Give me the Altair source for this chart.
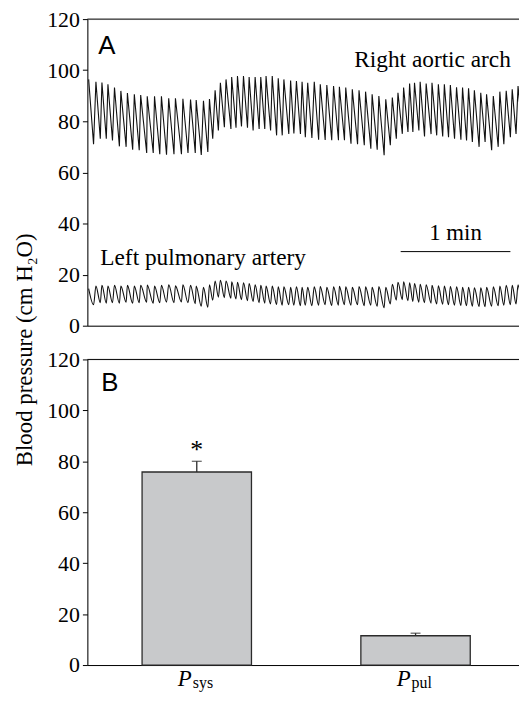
import altair as alt
import pandas as pd

# ---------------- Panel A: pressure traces (time in s, pressure in cm H2O) ----------------
aortic_peak_t = [0.7, 4.7, 8.0, 11.3, 14.9, 18.4, 22.0, 25.8, 29.3, 32.9, 36.9, 40.7, 44.7, 48.4, 52.5, 56.7,
                 59.8, 63.8, 67.1, 70.2, 73.1, 76.2, 79.3, 82.5, 85.8, 88.9, 92.2, 95.3, 98.2, 101.6, 104.9, 108.0, 111.7, 114.9, 118.0,
                 121.1, 124.7, 128.0, 131.6, 135.3, 138.5, 142.0, 145.6, 149.3, 152.9, 156.5, 160.2, 164.0, 167.6, 170.7, 173.8, 177.1,
                 179.8, 182.9, 186.2, 189.4, 192.9, 196.2, 199.5, 202.9, 206.2, 209.5, 212.7, 216.2, 219.4, 223.1, 226.7, 230.2, 233.5, 236.7, 239.8]
aortic_peak = [96.4, 95.5, 95.2, 94.5, 93.2, 91.9, 91.1, 90.6, 90.3, 89.8, 89.8, 89.8, 89.0, 89.0, 88.8, 88.5,
               88.3, 88.0, 88.7, 92.1, 95.1, 96.4, 97.3, 97.7, 97.7, 97.3, 97.3, 97.3, 97.7, 97.7, 96.8, 96.4, 96.0, 95.8, 95.5,
               95.1, 95.5, 94.5, 94.2, 93.8, 93.5, 93.2, 92.5, 92.1, 91.6, 90.6, 89.9, 88.6, 89.3, 91.2, 93.2, 94.8,
               95.1, 95.5, 94.8, 95.1, 94.5, 94.5, 94.2, 93.3, 93.2, 92.9, 92.1, 91.2, 90.6, 89.9, 91.6, 91.9, 92.5, 93.8, 94.8]
aortic_trough_t = [3.4, 7.1, 10.4, 13.8, 17.6, 21.3, 24.9, 28.5, 32.6, 36.2, 39.8, 43.5, 47.6, 51.7, 55.3, 59.3,
                   62.6, 66.2, 68.9, 72.0, 75.3, 78.9, 81.7, 84.7, 88.0, 91.1, 94.4, 97.5, 100.7, 104.0, 107.1, 110.7, 113.5, 117.1,
                   119.8, 123.4, 127.1, 130.7, 134.3, 138.0, 141.3, 144.9, 148.5, 152.2, 155.8, 159.3, 163.1, 166.5, 169.8, 173.1, 176.2,
                   178.9, 182.2, 185.3, 188.9, 192.0, 195.3, 198.5, 201.8, 205.3, 208.4, 211.6, 215.3, 218.6, 222.2, 225.8, 228.9, 232.5, 235.6, 238.9]
aortic_trough = [71.0, 73.2, 73.2, 72.5, 70.2, 70.0, 68.9, 68.7, 67.6, 67.6, 67.1, 66.9, 67.1, 67.1, 67.6, 67.6,
                 66.8, 68.0, 73.2, 76.4, 77.7, 77.0, 77.5, 78.0, 77.5, 76.4, 77.0, 77.0, 76.4, 74.5, 74.5, 75.0, 75.2, 75.0,
                 73.8, 73.5, 72.8, 72.7, 72.6, 72.6, 72.6, 71.2, 71.0, 70.6, 69.3, 68.9, 66.7, 70.6, 73.2, 75.1, 75.8,
                 75.8, 76.4, 74.1, 75.0, 74.5, 74.1, 73.8, 73.2, 72.8, 72.5, 71.9, 70.0, 71.9, 68.7, 70.0, 71.0, 73.8, 75.0, 76.4]
pulm_peak = [14.5, 15.5, 15.8, 15.5, 15.8, 15.5, 15.8, 15.5, 15.8, 15.9, 15.5, 15.8, 16.0, 15.6, 16.0, 15.8,
             15.5, 15.0, 16.0, 17.5, 17.8, 17.5, 17.2, 17.0, 16.8, 16.5, 16.0, 15.8, 15.5, 15.5, 15.2, 15.2, 15.0, 15.2, 15.0,
             15.0, 15.2, 15.3, 15.0, 15.2, 15.4, 15.2, 15.0, 15.3, 15.2, 15.0, 15.3, 15.0, 16.2, 17.0, 17.2, 16.8,
             16.5, 16.2, 16.0, 15.8, 15.6, 15.5, 15.3, 15.2, 15.0, 15.0, 14.8, 14.8, 15.0, 15.2, 15.5, 15.8, 15.8, 16.0, 15.8]
pulm_trough = [8.2, 9.0, 8.8, 9.0, 8.8, 9.2, 8.8, 9.0, 9.2, 8.8, 9.0, 9.2, 9.0, 9.3, 9.0, 8.6,
               7.6, 7.2, 10.0, 11.2, 11.0, 10.8, 10.5, 10.2, 9.8, 9.5, 9.0, 8.8, 8.5, 8.3, 8.0, 8.2, 8.0, 7.8,
               8.0, 7.8, 8.0, 8.2, 7.9, 8.0, 8.2, 8.0, 8.2, 7.8, 8.0, 7.6, 7.0, 8.5, 10.0, 10.2, 9.8,
               9.5, 9.2, 9.0, 8.8, 8.5, 8.4, 8.2, 8.0, 7.9, 7.8, 7.6, 7.5, 7.4, 7.6, 7.8, 8.0, 8.2, 8.5, 8.6]

trace_labels = ["Right aortic arch", "Left pulmonary artery"]
trace_label_t = [146.7, 7.1]
trace_label_p = [101.3, 23.9]
scalebar_t = [172.2, 232.5]
scalebar_p = 29.0
scalebar_label = "1 min"

# ---------------- Panel B: mean pressures ----------------
bar_cats = ["sys", "pul"]
bar_means = [75.8, 11.5]
bar_se = [4.2, 1.0]
bar_marks = ["*", ""]

y_ticks = [0, 20, 40, 60, 80, 100, 120]

SERIF = "Liberation Serif"
SANS = "Liberation Sans"
W = 441
HA = 309
HB = 308
INK = "#111111"

rows = []
for name, tp, vp, tt, vt in [("aortic", aortic_peak_t, aortic_peak, aortic_trough_t, aortic_trough),
                             ("pulm", aortic_peak_t, pulm_peak, aortic_trough_t, pulm_trough)]:
    for t, v in zip(tp, vp):
        rows.append((name, t, v))
    for t, v in zip(tt, vt):
        rows.append((name, t, v))
trace_df = pd.DataFrame(rows, columns=["vessel", "t", "p"]).sort_values(["vessel", "t"])

y_scale = alt.Scale(domain=[0, 120], nice=False, zero=True)
x_scale_a = alt.Scale(domain=[0, 240.5], nice=False, zero=False)


def y_axis():
    return alt.Axis(values=y_ticks, title=None, grid=False, labelFont=SERIF, labelFontSize=22,
                    labelColor="black", tickColor="black", domainColor="black", tickSize=5,
                    labelPadding=3, domainWidth=1, tickWidth=1)


one = pd.DataFrame({"k": [0]})

x_a = alt.X("t:Q", scale=x_scale_a,
            axis=alt.Axis(labels=False, ticks=False, title=None, grid=False, domainColor="black"))
aortic_line = alt.Chart(trace_df).transform_filter(alt.datum.vessel == "aortic").mark_line(
    strokeWidth=1.1, color=INK).encode(x=x_a, y=alt.Y("p:Q", scale=y_scale, axis=y_axis()), order="t:Q")
pulm_line = alt.Chart(trace_df).transform_filter(alt.datum.vessel == "pulm").mark_line(
    strokeWidth=1.1, color=INK, interpolate="monotone").encode(x=x_a, y=alt.Y("p:Q", scale=y_scale), order="t:Q")

frame_a = alt.Chart(one).mark_rule(color="black", strokeWidth=1).encode(y=alt.datum(120))

lab_df = pd.DataFrame({"label": trace_labels, "t": trace_label_t, "p": trace_label_p})
labels_a = alt.Chart(lab_df).mark_text(font=SERIF, fontSize=23.5, align="left", baseline="alphabetic",
                                       color="black").encode(x="t:Q", y="p:Q", text="label:N")

sb_df = pd.DataFrame({"t0": [scalebar_t[0]], "t1": [scalebar_t[1]], "p": [scalebar_p],
                      "tm": [(scalebar_t[0] + scalebar_t[1]) / 2], "lab": [scalebar_label]})
scalebar = alt.Chart(sb_df).mark_rule(color="black", strokeWidth=1).encode(x="t0:Q", x2="t1:Q", y="p:Q")
scalebar_text = alt.Chart(sb_df).mark_text(font=SERIF, fontSize=23, align="center", baseline="alphabetic",
                                           dy=-12, color="black").encode(x="tm:Q", y="p:Q", text="lab:N")

letter_a = alt.Chart(one).mark_text(text="A", font=SANS, fontSize=26, align="left", baseline="alphabetic",
                                    color="black").encode(x=alt.datum(6.0), y=alt.datum(106.5))

panel_a = alt.layer(aortic_line, pulm_line, frame_a, labels_a, scalebar, scalebar_text, letter_a).properties(
    width=W, height=HA)

bar_df = pd.DataFrame({"cat": bar_cats, "mean": bar_means, "se": bar_se, "mark": bar_marks})
bar_df["top"] = bar_df["mean"] + bar_df["se"]

xb = alt.X("cat:N", sort=bar_cats, scale=alt.Scale(paddingInner=0.5, paddingOuter=0.25),
           axis=alt.Axis(labels=False, ticks=False, title=None, grid=False, domainColor="black"))

bars = alt.Chart(bar_df).mark_bar(fill="#c8c9cb", stroke="#2b2b2b", strokeWidth=1.3).encode(
    x=xb, y=alt.Y("mean:Q", scale=y_scale, axis=y_axis()))
err = alt.Chart(bar_df).mark_rule(color="#2b2b2b", strokeWidth=1.3).encode(x=xb, y="mean:Q", y2="top:Q")
cap = alt.Chart(bar_df).mark_tick(color="#2b2b2b", size=10, thickness=1.3).encode(x=xb, y="top:Q")
star = alt.Chart(bar_df).mark_text(font=SERIF, fontSize=26, baseline="alphabetic", dy=-3,
                                   color="black").encode(x=xb, y="top:Q", text="mark:N")
frame_b = alt.Chart(one).mark_rule(color="black", strokeWidth=1).encode(y=alt.datum(120))
p_lab = alt.Chart(bar_df).mark_text(text="P", font=SERIF, fontSize=23, fontStyle="italic", align="right",
                                    baseline="alphabetic", dx=-5, color="black").encode(
    x=xb, y=alt.value(HB + 21))
sub_lab = alt.Chart(bar_df).mark_text(font=SERIF, fontSize=16, align="left", baseline="alphabetic",
                                      dx=-4, color="black").encode(
    x=xb, y=alt.value(HB + 23.5), text="cat:N")
letter_b = alt.Chart(one).mark_text(text="B", font=SANS, fontSize=26, align="left", baseline="alphabetic",
                                    color="black").encode(x=alt.value(14), y=alt.datum(107.7))

panel_b = alt.layer(bars, err, cap, star, frame_b, p_lab, sub_lab, letter_b).properties(width=W, height=HB)

chart = alt.vconcat(
    panel_a, panel_b, spacing=34, bounds="flush",
    title=alt.TitleParams("Blood pressure (cm H₂O)", orient="left", anchor="middle", font=SERIF,
                          fontSize=23, fontWeight="normal", color="black", offset=9),
).properties(
    padding={"top": -3.5, "bottom": 0, "left": 6, "right": -8}
).configure_view(stroke=None).configure(background="white")

chart.save("out.html", embed_options={"renderer": "svg", "actions": False})
